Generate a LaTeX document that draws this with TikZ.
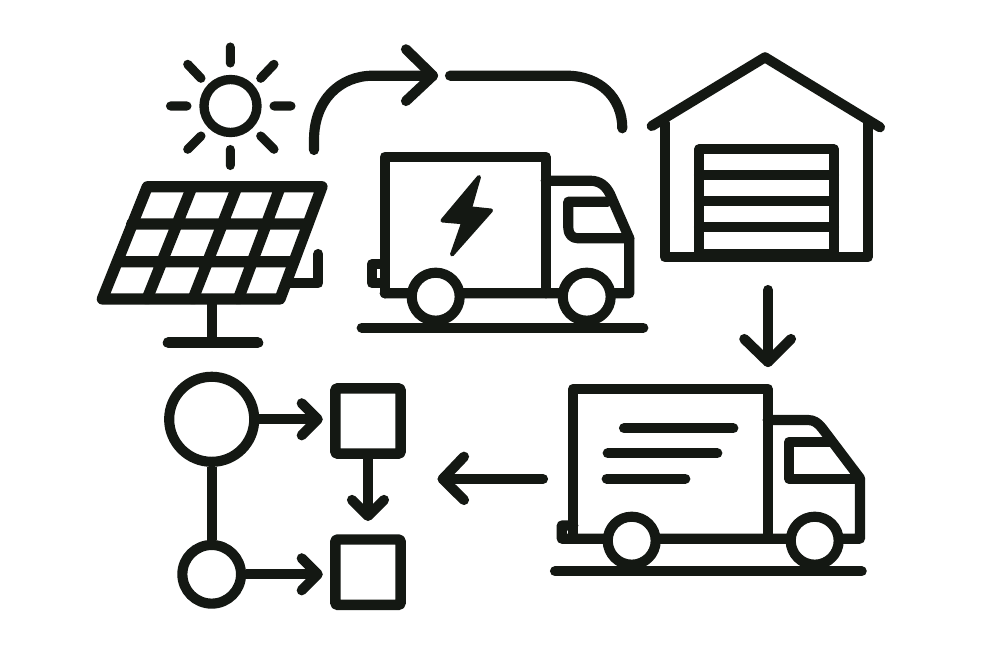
\documentclass[tikz,border=0pt]{standalone}
\usetikzlibrary{arrows.meta}
\definecolor{ink}{HTML}{141813}
\tikzset{
  ln/.style={draw=ink,line width=7.6pt,line cap=round,line join=round},
  thin ln/.style={ln,line width=6.8pt},
  wheel/.style={ln,fill=white},
  cellbox/.style={draw=ink,line width=7.8pt,rounded corners=1pt,minimum size=49pt,inner sep=0pt,line join=round},
  hub/.style={circle,draw=ink,line width=7.6pt,inner sep=0pt},
  arr/.style={ln,-{Straight Barb[round,length=12pt,width=24pt]}},
}
\begin{document}
\begin{tikzpicture}[x=0.75pt,y=-0.75pt]
\useasboundingbox[fill=white] (0,0) rectangle (1000,667);
% sun
\draw[ln,line width=7pt] (230.5,106) circle (26.5);
\draw[thin ln] (230.3,47) -- (230.3,63) (230.3,149.5) -- (230.3,165.5)
  (170.5,106) -- (187,106) (274,106) -- (291,106)
  (187.7,64.3) -- (201,78.3) (274,64.3) -- (260.7,78.3)
  (187.7,149.3) -- (201,136) (274,149.3) -- (260.7,136);
% solar panel
\draw[ln,line width=8.4pt] (147.3,186.7) -- (322,186.7) -- (280,299) -- (102.3,299) -- cycle;
\draw[ln,line width=8.4pt] (131.5,224) -- (308,224) (117.5,261.7) -- (294,261.7)
  (192,186.7) -- (147,299) (237,186.7) -- (193,299) (280.3,186.7) -- (238.3,299);
\draw[ln] (212.3,299) -- (212.3,342.7);
\draw[ln,line width=8.4pt] (168.3,342.7) -- (257.7,342.7);
\draw[ln] (290,283.3) -- (318.3,283.3) -- (318.3,254);
% top curved arrow
\coordinate (a1s) at (314,150);
\coordinate (a1t) at (433,75.7);
\coordinate (a2s) at (450,75.7);
\coordinate (a2e) at (622.3,128.3);
\draw[ln] (a1s) -- (314,140) .. controls (314,100) and (340,75.7) .. (373,75.7) -- (a1t);
\draw[ln] (406,49.3) -- (a1t) -- (406,101);
\draw[ln] (a2s) -- (566.7,75.7) .. controls (600,75.7) and (622.3,98) .. (a2e);
% electric truck
\draw[ln] (384.7,293.3) -- (384.7,156.7) -- (545.7,156.7) -- (545.7,293.3);
\draw[ln] (545.7,180.7) -- (590,180.7) .. controls (600,180.7) and (606,186) .. (610,194)
  -- (629.3,238.3) -- (629.3,293.3) -- (384.7,293.3);
\draw[ln] (629.3,238.3) -- (578,238.3) .. controls (572,238.3) and (568.3,234) .. (568.3,228)
  -- (568.3,201.7) -- (608,201.7);
\draw[ln] (384.7,264.3) -- (371.7,264.3) -- (371.7,283) -- (384.7,283);
\draw[wheel] (435.7,296.7) circle (24);
\draw[wheel] (586.7,296.7) circle (24);
\draw[ln] (361.7,327.7) -- (643.3,327.7);
\draw[draw=ink,fill=ink,line width=3pt,line join=round]
  (479,177) -- (442.5,220.5) -- (463.3,222.3) -- (452,254.5) -- (491,210.5) -- (470,208.3) -- cycle;
% garage
\draw[ln] (665,123) -- (665,257.3) -- (867.7,257.3) -- (867.7,123);
\draw[ln] (651.7,126) -- (765,57.3) -- (880,127.3);
\draw[ln] (699,254) -- (699,149.3) -- (834,149.3) -- (834,254) -- cycle;
\draw[ln] (699,174.7) -- (834,174.7) (699,201) -- (834,201) (699,227.3) -- (834,227.3);
% down arrow
\coordinate (a3s) at (768,290);
\coordinate (a3t) at (768,362);
\draw[ln] (a3s) -- (a3t);
\draw[ln] (744.3,339) -- (a3t) -- (791,339);
% delivery truck
\draw[ln] (573.3,538.7) -- (573.3,388.7) -- (767.7,388.7) -- (767.7,538.7);
\draw[ln] (767.7,420) -- (808,420) .. controls (814,420) and (818,423) .. (822,428)
  -- (860,478.3) -- (860,538.7) -- (561.7,538.7) -- (561.7,525.5) -- (573.3,525.5);
\draw[ln] (860,479) -- (789.3,479) -- (789.3,441.7) -- (830,441.7);
\draw[ln] (624,428.3) -- (733.3,428.3) (607.7,453.3) -- (717.3,453.3) (606.7,478.7) -- (685.3,478.7);
\draw[wheel] (631.7,540.7) circle (24);
\draw[wheel] (814.7,540.7) circle (24);
\draw[ln] (555,571.3) -- (861.7,571.3);
% flow chart
\node[hub,minimum size=63.8pt] (c1) at (211.7,419.3) {};
\node[hub,minimum size=44pt] (c2) at (211.7,574.3) {};
\node[cellbox] (s1) at (368,421) {};
\node[cellbox] (s2) at (368,572.2) {};
\draw[ln,line cap=butt] (c1) -- (c2);
\draw[arr,shorten >=5.5pt,line cap=butt] (c1.east) -- (s1.west |- c1.east);
\draw[arr,shorten >=5.5pt,line cap=butt] (c2.east) -- (s2.west |- c2.east);
\draw[arr,shorten >=10pt,line cap=butt] (s1.south) -- (s2.north);
\coordinate (a4s) at (543,479);
\coordinate (a4t) at (442.7,479);
\draw[ln] (a4s) -- (a4t);
\draw[ln] (464,456.7) -- (a4t) -- (464,500);
\end{tikzpicture}
\end{document}
